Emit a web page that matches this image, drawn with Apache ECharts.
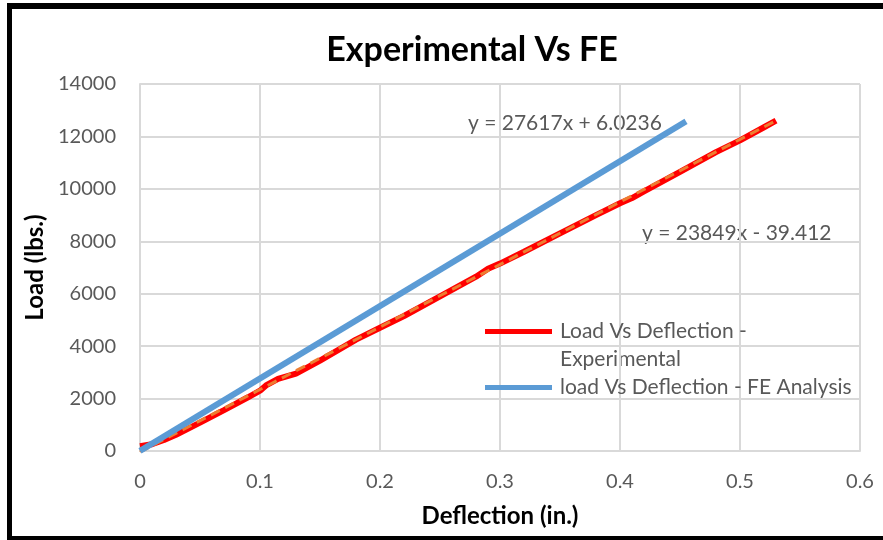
<!DOCTYPE html>
<html>
<head>
<meta charset="utf-8">
<script src="https://cdn.jsdelivr.net/npm/echarts@6/dist/echarts.min.js"></script>
<style>
  html, body { margin: 0; padding: 0; background: #fff; }
  #main { width: 883px; height: 540px; }
</style>
</head>
<body>
<div id="main"></div>
<script>
// data
var expDeflection = [0, 0.01, 0.02, 0.03, 0.05, 0.07, 0.09, 0.1, 0.105, 0.115, 0.13, 0.15, 0.18, 0.2, 0.22, 0.25, 0.28, 0.29, 0.3, 0.32, 0.35, 0.38, 0.4, 0.41, 0.42, 0.45, 0.48, 0.5, 0.52, 0.53];
var expLoad = [180, 260, 420, 620, 1080, 1560, 2050, 2300, 2500, 2750, 2950, 3450, 4250, 4700, 5150, 5900, 6650, 6950, 7150, 7600, 8300, 9000, 9450, 9650, 9900, 10650, 11400, 11850, 12350, 12600];
var feDeflection = [0, 0.455];
var feLoad = [6, 12572];
var trendDeflection = [0, 0.53];
var trendLoad = [-39, 12601];
var labelFE = 'y = 27617x + 6.0236';
var labelExp = 'y = 23849x - 39.412';

function pairs(xs, ys) {
    return xs.map(function (x, i) { return [x, ys[i]]; });
}

var myChart = echarts.init(document.getElementById('main'));
var font = 'Lato, "Open Sans", sans-serif';

var option = {
    backgroundColor: '#fff',
    animation: false,
    title: {
        text: 'Experimental Vs FE',
        left: 467,
        textAlign: 'center',
        top: 28,
        textStyle: { fontFamily: font, fontWeight: 'bold', fontSize: 34, color: '#000' }
    },
    grid: { left: 140, right: 23, top: 84, bottom: 89 },
    legend: {
        orient: 'vertical',
        left: 485,
        top: 321,
        padding: 0,
        itemWidth: 67,
        itemHeight: 5,
        itemGap: 35,
        icon: 'rect',
        data: ['Load Vs Deflection - Experimental', 'load Vs Deflection - FE Analysis'],
        formatter: function (name) {
            return name === 'Load Vs Deflection - Experimental' ? 'Load Vs Deflection -' : name;
        },
        textStyle: { fontFamily: font, fontSize: 21, color: '#595959', padding: [0, 0, 0, 3] }
    },
    xAxis: {
        type: 'value',
        min: 0, max: 0.6, interval: 0.1,
        name: 'Deflection (in.)',
        nameLocation: 'middle',
        nameGap: 53,
        nameTextStyle: { fontFamily: font, fontWeight: 'bold', fontSize: 24, color: '#000' },
        axisLine: { show: true, lineStyle: { color: '#d9d9d9', width: 2 } },
        axisTick: { show: false },
        axisLabel: { fontFamily: font, fontSize: 20, color: '#595959', margin: 21,
            formatter: function (v) { return String(+v.toFixed(1)); } },
        splitLine: { show: true, lineStyle: { color: '#d9d9d9', width: 2 } }
    },
    yAxis: {
        type: 'value',
        min: 0, max: 14000, interval: 2000,
        name: 'Load (lbs.)',
        nameLocation: 'middle',
        nameGap: 86,
        nameTextStyle: { fontFamily: font, fontWeight: 'bold', fontSize: 24, color: '#000' },
        axisLine: { show: true, lineStyle: { color: '#d9d9d9', width: 2 } },
        axisTick: { show: false },
        axisLabel: { fontFamily: font, fontSize: 20, color: '#595959', margin: 24,
            formatter: function (v) { return String(v); } },
        splitLine: { show: true, lineStyle: { color: '#d9d9d9', width: 2 } }
    },
    series: [
        {
            name: 'Load Vs Deflection - Experimental',
            type: 'line',
            data: pairs(expDeflection, expLoad),
            showSymbol: false,
            lineStyle: { color: '#ff0000', width: 6 },
            itemStyle: { color: '#ff0000' },
            z: 2
        },
        {
            name: 'Linear (Experimental)',
            type: 'line',
            data: pairs(trendDeflection, trendLoad),
            showSymbol: false,
            lineStyle: { color: '#ed7d31', width: 3, type: [10, 6] },
            itemStyle: { color: '#ed7d31' },
            z: 3
        },
        {
            name: 'load Vs Deflection - FE Analysis',
            type: 'line',
            data: pairs(feDeflection, feLoad),
            showSymbol: false,
            lineStyle: { color: '#5b9bd5', width: 6 },
            itemStyle: { color: '#5b9bd5' },
            z: 4
        }
    ],
    graphic: [
        { type: 'text', left: 468, top: 113, style: { text: labelFE, fontFamily: font, fontSize: 21, fill: '#595959' } },
        { type: 'text', left: 642, top: 223, style: { text: labelExp, fontFamily: font, fontSize: 21, fill: '#595959' } },
        { type: 'text', left: 560, top: 349, style: { text: 'Experimental', fontFamily: font, fontSize: 21, fill: '#595959' } },
        // black frame on left, top and bottom
        { type: 'rect', shape: { x: 7, y: 3, width: 876, height: 6 }, style: { fill: '#000' } },
        { type: 'rect', shape: { x: 7, y: 3, width: 5, height: 537 }, style: { fill: '#000' } },
        { type: 'rect', shape: { x: 7, y: 536, width: 876, height: 4 }, style: { fill: '#000' } }
    ]
};

myChart.setOption(option);
</script>
</body>
</html>
